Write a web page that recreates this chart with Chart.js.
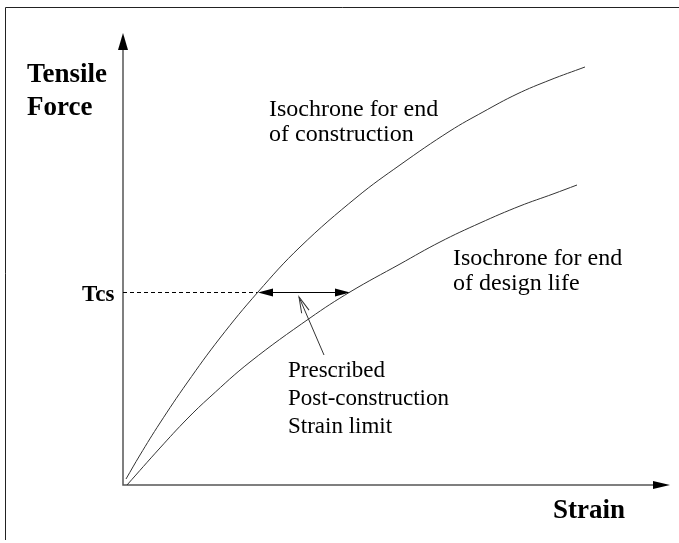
<!DOCTYPE html>
<html>
<head>
<meta charset="utf-8">
<script src="https://cdn.jsdelivr.net/npm/chart.js@4/dist/chart.umd.min.js"></script>
<style>
  body { margin: 0; background: #fff; }
  #wrap { width: 679px; height: 543px; }
</style>
</head>
<body>
<div id="wrap"><canvas id="myChart" width="679" height="543"></canvas></div>
<script>
// strain (x) / tensile force (y), arbitrary units 0..100
const endConstructionStrain = [0.55, 3.11, 6.76, 11.7, 17.73, 24.68, 32.36, 42.78, 50.64, 59.78, 65.81, 72.03, 78.06, 84.46];
const endConstructionForce  = [1.33, 6.64, 13.72, 22.57, 32.52, 42.7, 52.65, 63.72, 70.8, 78.32, 82.52, 86.5, 89.6, 92.48];
const endDesignStrain = [0.73, 6.76, 11.7, 15.9, 23.22, 34.19, 41.5, 50.64, 57.95, 65.27, 72.58, 78.61, 83.0];
const endDesignForce  = [0, 8.19, 14.6, 19.47, 27.21, 36.95, 42.7, 48.89, 53.76, 57.96, 61.73, 64.38, 66.37];
const tcs = 42.7;
const limitStrain = [24.68, 41.5];

function toPoints(xs, ys) {
    return xs.map(function (x, i) { return {x: x, y: ys[i]}; });
}

const serif = "'Liberation Serif', 'DejaVu Serif', serif";

function arrowHead(ctx, tipX, tipY, angle, len, half) {
    ctx.save();
    ctx.translate(tipX, tipY);
    ctx.rotate(angle);
    ctx.beginPath();
    ctx.moveTo(0, 0);
    ctx.lineTo(-len, -half);
    ctx.lineTo(-len, half);
    ctx.closePath();
    ctx.fillStyle = '#000';
    ctx.fill();
    ctx.restore();
}

const diagramPlugin = {
    id: 'diagram',
    beforeDatasetsDraw: function (chart) {
        const ctx = chart.ctx;
        const xs = chart.scales.x, ys = chart.scales.y;
        const x0 = xs.getPixelForValue(0), y0 = ys.getPixelForValue(0);
        const xEnd = xs.getPixelForValue(100), yEnd = ys.getPixelForValue(100);

        ctx.save();
        // frame
        ctx.strokeStyle = '#222';
        ctx.lineWidth = 1;
        ctx.beginPath();
        ctx.moveTo(5.5, 540);
        ctx.lineTo(5.5, 7.5);
        ctx.lineTo(679, 7.5);
        ctx.stroke();

        // axes
        ctx.strokeStyle = '#555';
        ctx.lineWidth = 1.5;
        ctx.beginPath();
        ctx.moveTo(x0, yEnd + 10);
        ctx.lineTo(x0, y0);
        ctx.lineTo(xEnd - 10, y0);
        ctx.stroke();
        arrowHead(ctx, x0, yEnd, -Math.PI / 2, 17, 5);
        arrowHead(ctx, xEnd, y0, 0, 17, 4);

        // Tcs dashed level
        const yT = Math.round(ys.getPixelForValue(tcs)) + 0.5;
        const xa = xs.getPixelForValue(limitStrain[0]);
        const xb = xs.getPixelForValue(limitStrain[1]);
        ctx.strokeStyle = '#000';
        ctx.lineWidth = 1;
        ctx.setLineDash([4, 3]);
        ctx.beginPath();
        ctx.moveTo(x0, yT);
        ctx.lineTo(xa, yT);
        ctx.stroke();
        ctx.setLineDash([]);

        // strain limit double arrow
        ctx.beginPath();
        ctx.moveTo(xa + 8, yT);
        ctx.lineTo(xb - 8, yT);
        ctx.stroke();
        arrowHead(ctx, xa, yT, Math.PI, 15, 4);
        arrowHead(ctx, xb, yT, 0, 15, 4);

        // pointer arrow
        const tx = 299, ty = 297, sx = 324, sy = 355;
        const ang = Math.atan2(ty - sy, tx - sx);
        ctx.strokeStyle = '#333';
        ctx.beginPath();
        ctx.moveTo(sx, sy);
        ctx.lineTo(tx, ty);
        ctx.stroke();
        ctx.save();
        ctx.translate(tx, ty);
        ctx.rotate(ang);
        ctx.beginPath();
        ctx.moveTo(-16, -4);
        ctx.lineTo(0, 0);
        ctx.lineTo(-16, 4);
        ctx.stroke();
        ctx.restore();

        // texts
        ctx.fillStyle = '#000';
        ctx.textBaseline = 'alphabetic';
        ctx.textAlign = 'left';
        ctx.font = 'bold 27px ' + serif;
        ctx.fillText('Tensile', 27, 82);
        ctx.fillText('Force', 27, 115);
        ctx.fillText('Strain', 553, 518);
        ctx.font = 'bold 23px ' + serif;
        ctx.fillText('Tcs', 82, 301);
        ctx.font = '24px ' + serif;
        ctx.fillText('Isochrone for end', 269, 116);
        ctx.fillText('of construction', 269, 141);
        ctx.fillText('Isochrone for end', 453, 265);
        ctx.fillText('of design life', 453, 290);
        ctx.font = '23px ' + serif;
        ctx.fillText('Prescribed', 288, 377);
        ctx.fillText('Post-construction', 288, 405);
        ctx.fillText('Strain limit', 288, 433);
        ctx.restore();
    }
};

const ctx = document.getElementById('myChart').getContext('2d');
const myChart = new Chart(ctx, {
    type: 'line',
    data: {
        datasets: [{
            label: 'Isochrone for end of construction',
            data: toPoints(endConstructionStrain, endConstructionForce),
            borderColor: '#333',
            borderWidth: 1,
            pointRadius: 0,
            tension: 0.4,
            fill: false,
            clip: false
        }, {
            label: 'Isochrone for end of design life',
            data: toPoints(endDesignStrain, endDesignForce),
            borderColor: '#333',
            borderWidth: 1,
            pointRadius: 0,
            tension: 0.4,
            fill: false,
            clip: false
        }]
    },
    options: {
        responsive: false,
        animation: false,
        devicePixelRatio: 1,
        layout: {
            padding: {left: 123, right: 9, top: 33, bottom: 58}
        },
        scales: {
            x: {type: 'linear', min: 0, max: 100, display: false},
            y: {type: 'linear', min: 0, max: 100, display: false}
        },
        plugins: {
            legend: {display: false},
            tooltip: {enabled: false},
            title: {display: false}
        }
    },
    plugins: [diagramPlugin]
});
</script>
</body>
</html>
